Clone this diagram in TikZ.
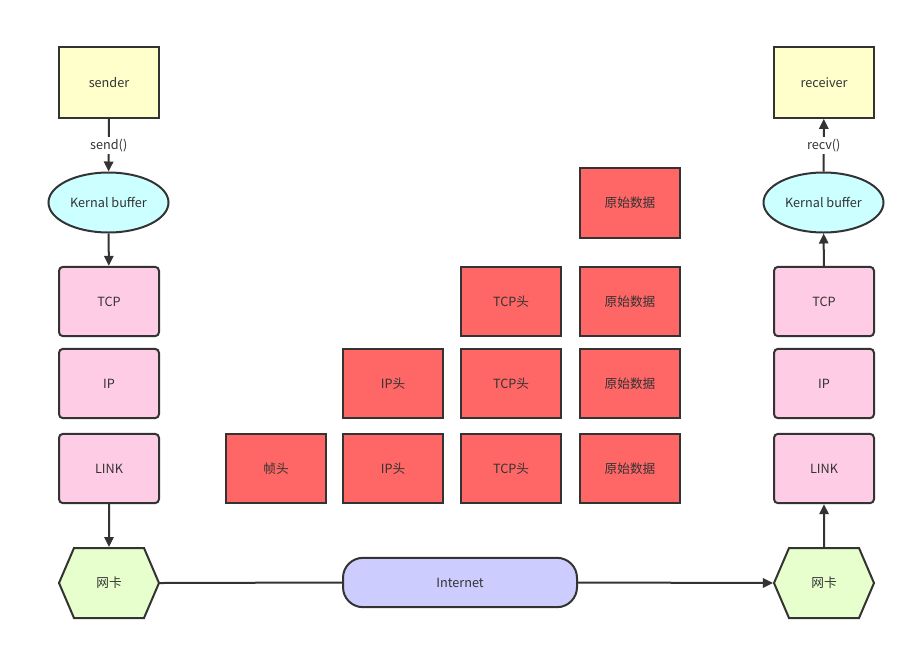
\documentclass[tikz,border=0pt]{standalone}
\usepackage{fontspec}
\setmainfont{Noto Sans CJK SC}
\usetikzlibrary{shapes.geometric,shapes.symbols,arrows.meta}
\definecolor{ln}{HTML}{333333}
\definecolor{yel}{HTML}{FFFFCC}
\definecolor{cyn}{HTML}{CCFFFF}
\definecolor{pnk}{HTML}{FFCCE6}
\definecolor{grn}{HTML}{E6FFCC}
\definecolor{blu}{HTML}{CCCCFF}
\definecolor{red}{HTML}{FF6666}
\tikzset{
  base/.style={draw=ln, line width=1.5pt, text=ln, font=\fontsize{9.5}{11}\selectfont, inner sep=0pt},
  appbox/.style={base, fill=yel, minimum width=75pt, minimum height=53pt},
  kbuf/.style={base, ellipse, fill=cyn, minimum width=90pt, minimum height=45pt},
  layer/.style={base, fill=pnk, rounded corners=3pt, minimum width=75pt, minimum height=52pt},
  nic/.style={base, signal, signal to=west and east, signal pointer angle=133.6, fill=grn, minimum width=75pt, minimum height=52.5pt},
  net/.style={base, fill=blu, rounded corners=15pt, minimum width=175.5pt, minimum height=37pt},
  pkt/.style={base, fill=red, minimum width=75pt, minimum height=52pt},
  conn/.style={draw=ln, line width=1.5pt},
  arr/.style={conn, -{Triangle[length=7.5pt,width=7pt]}},
  lbl/.style={fill=white, text=ln, font=\fontsize{9.5}{11}\selectfont, inner sep=1.5pt}
}
\begin{document}
\begin{tikzpicture}[x=0.75pt,y=-0.75pt]
\useasboundingbox (0,0) rectangle (916,650);
% left column
\node[appbox] (sender) at (109,82.5) {sender};
\node[kbuf] (kbl) at (108.5,202.5) {Kernal buffer};
\node[layer] (tcpl) at (109,301.5) {TCP};
\node[layer] (ipl) at (109,383.5) {IP};
\node[layer] (linkl) at (109,468.5) {LINK};
\node[nic] (nicl) at (109,583) {网卡};
% right column
\node[appbox] (recv) at (824,82.5) {receiver};
\node[kbuf] (kbr) at (823.5,202.5) {Kernal buffer};
\node[layer] (tcpr) at (824,301.5) {TCP};
\node[layer] (ipr) at (824,383.5) {IP};
\node[layer] (linkr) at (824,468.5) {LINK};
\node[nic] (nicr) at (824,583) {网卡};
% internet
\node[net] (inet) at (460,582.5) {Internet};
% packets
\node[pkt] (p1) at (630,203) {原始数据};
\node[pkt] (p2a) at (511,301.5) {TCP头};
\node[pkt] (p2b) at (630,301.5) {原始数据};
\node[pkt] (p3a) at (393,383.5) {IP头};
\node[pkt] (p3b) at (511,383.5) {TCP头};
\node[pkt] (p3c) at (630,383.5) {原始数据};
\node[pkt] (p4a) at (276,468.5) {帧头};
\node[pkt] (p4b) at (393,468.5) {IP头};
\node[pkt] (p4c) at (511,468.5) {TCP头};
\node[pkt] (p4d) at (630,468.5) {原始数据};
% connectors
\draw[arr] (sender) -- node[lbl] {send()} (kbl);
\draw[arr] (kbl) -- (tcpl);
\draw[arr] (linkl) -- (nicl);
\draw[conn] (nicl.east) -- (inet.west);
\draw[arr] (inet.east) -- (nicr.west);
\draw[arr] (nicr) -- (linkr);
\draw[arr] (tcpr) -- (kbr);
\draw[arr] (kbr) -- node[lbl] {recv()} (recv);
\end{tikzpicture}
\end{document}
